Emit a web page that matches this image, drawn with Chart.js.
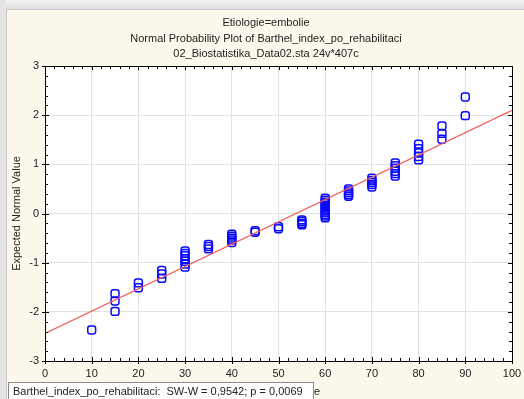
<!DOCTYPE html>
<html><head><meta charset="utf-8">
<script src="https://cdn.jsdelivr.net/npm/chart.js@4"></script>
<style>html,body{margin:0;padding:0;background:#fdf8ec;overflow:hidden}canvas{display:block}</style>
</head><body>
<canvas id="c" width="524" height="399"></canvas>
<script>
const titleLines = ["Etiologie=embolie", "Normal Probability Plot of Barthel_index_po_rehabilitaci", "02_Biostatistika_Data02.sta 24v*407c"];
const yAxisTitle = "Expected Normal Value";
const statText = "Barthel_index_po_rehabilitaci:  SW-W = 0,9542; p = 0,0069";
const xTickValues = [0, 10, 20, 30, 40, 50, 60, 70, 80, 90, 100];
const yTickValues = [-3, -2, -1, 0, 1, 2, 3];

const barthelIndex = [
  10,
  15, 15, 15,
  20, 20,
  25, 25, 25,
  30, 30, 30, 30, 30, 30, 30,
  35, 35, 35,
  40, 40, 40, 40, 40,
  45, 45,
  50, 50,
  55, 55, 55, 55,
  60, 60, 60, 60, 60, 60, 60, 60, 60, 60, 60, 60,
  65, 65, 65, 65, 65,
  70, 70, 70, 70, 70,
  75, 75, 75, 75, 75, 75,
  80, 80, 80, 80, 80,
  85, 85, 85,
  90, 90
];
const expectedNormal = [
  -2.37,
  -1.99, -1.78, -1.63,
  -1.51, -1.41,
  -1.32, -1.23, -1.16,
  -1.09, -1.03, -0.97, -0.92, -0.86, -0.81, -0.76,
  -0.72, -0.67, -0.63,
  -0.59, -0.54, -0.50, -0.46, -0.42,
  -0.38, -0.35,
  -0.31, -0.27,
  -0.23, -0.20, -0.16, -0.13,
  -0.09, -0.05, -0.02, 0.02, 0.05, 0.09, 0.13, 0.16, 0.20, 0.23, 0.27, 0.31,
  0.35, 0.38, 0.42, 0.46, 0.50,
  0.54, 0.59, 0.63, 0.67, 0.72,
  0.76, 0.81, 0.86, 0.92, 0.97, 1.03,
  1.09, 1.16, 1.23, 1.32, 1.41,
  1.51, 1.63, 1.78,
  1.99, 2.37
];
const fitLineX = [0, 100];
const fitLineY = [-2.44, 2.10];

const FONT = "'Liberation Sans', Arial, sans-serif";
const TEXT = "#222222";

const decor = {
  id: 'decor',
  beforeDraw(chart) {
    const ctx = chart.ctx, a = chart.chartArea;
    ctx.save();
    ctx.fillStyle = '#fdf8ec';
    ctx.fillRect(0, 0, chart.width, chart.height);
    const g = ctx.createLinearGradient(0, 0, 0, 9);
    g.addColorStop(0, '#f2f2f2'); g.addColorStop(1, '#e2e2e2');
    ctx.fillStyle = g; ctx.fillRect(0, 0, chart.width, 9);
    ctx.fillStyle = '#e4e4e4'; ctx.fillRect(0, 0, 6, chart.height);
    ctx.strokeStyle = '#c9c9c9'; ctx.lineWidth = 1;
    ctx.beginPath(); ctx.moveTo(6, 9.5); ctx.lineTo(chart.width, 9.5);
    ctx.moveTo(6.5, 9); ctx.lineTo(6.5, chart.height); ctx.stroke();
    ctx.fillStyle = '#ffffff';
    ctx.fillRect(a.left, a.top, a.right - a.left, a.bottom - a.top);
    ctx.restore();
  },
  afterDatasetsDraw(chart) {
    const ctx = chart.ctx, a = chart.chartArea;
    const xs = chart.scales.x, ys = chart.scales.y;
    ctx.save();
    ctx.strokeStyle = '#000000'; ctx.lineWidth = 1;
    ctx.beginPath();
    for (let v = 0; v <= 100; v += 2) {
      const px = Math.round(xs.getPixelForValue(v)) + 0.5;
      const major = v % 10 === 0;
      const len = major ? 4 : 3;
      ctx.moveTo(px, a.bottom); ctx.lineTo(px, a.bottom - len);
      ctx.moveTo(px, a.top); ctx.lineTo(px, a.top + len);
      if (major) { ctx.moveTo(px, a.bottom); ctx.lineTo(px, a.bottom + 3); }
    }
    for (let i = -15; i <= 15; i++) {
      const v = i / 5;
      const py = Math.round(ys.getPixelForValue(v)) + 0.5;
      const major = i % 5 === 0;
      const len = major ? 4 : 3;
      ctx.moveTo(a.left, py); ctx.lineTo(a.left + len, py);
      ctx.moveTo(a.right, py); ctx.lineTo(a.right - len, py);
      if (major) { ctx.moveTo(a.left, py); ctx.lineTo(a.left - 3, py); }
    }
    ctx.stroke();
    ctx.strokeRect(Math.round(a.left) + 0.5, Math.round(a.top) + 0.5, Math.round(a.right - a.left), Math.round(a.bottom - a.top));
    ctx.restore();
  },
  afterDraw(chart) {
    const ctx = chart.ctx;
    ctx.save();
    ctx.fillStyle = TEXT;
    ctx.font = "11px " + FONT;
    ctx.textAlign = 'center'; ctx.textBaseline = 'middle';
    const ys = [23, 38.5, 54];
    titleLines.forEach((t, i) => ctx.fillText(t, 266, ys[i]));
    ctx.fillStyle = '#ffffff';
    ctx.fillRect(8, 382, 305, 20);
    ctx.strokeStyle = '#8a8a8a'; ctx.lineWidth = 1;
    ctx.strokeRect(8.5, 382.5, 305, 20);
    ctx.fillStyle = TEXT;
    ctx.textAlign = 'left';
    ctx.fillText(statText, 13, 392);
    ctx.fillText('e', 314, 392);
    ctx.restore();
  }
};

const points = barthelIndex.map((x, i) => ({ x: x, y: expectedNormal[i] }));
const linePts = fitLineX.map((x, i) => ({ x: x, y: fitLineY[i] }));

new Chart(document.getElementById('c'), {
  type: 'scatter',
  data: {
    datasets: [
      {
        type: 'line', data: linePts, borderColor: '#f25c5c', borderWidth: 1.2,
        pointRadius: 0, fill: false, order: 0, clip: 0
      },
      {
        data: points, pointStyle: 'rectRounded', pointRadius: 4.6,
        borderColor: '#0a0aff', backgroundColor: 'rgba(0,0,0,0)', borderWidth: 1.5,
        order: 1, clip: false
      }
    ]
  },
  options: {
    responsive: false, animation: false, devicePixelRatio: 1,
    layout: { padding: { left: 6, top: 66, right: 12, bottom: 0 } },
    plugins: { legend: { display: false }, tooltip: { enabled: false }, title: { display: false } },
    scales: {
      x: {
        type: 'linear', min: 0, max: 100,
        afterFit(s) { s.height = 38; s.paddingRight = 0; s.paddingLeft = 0; },
        afterBuildTicks(s) { s.ticks = xTickValues.map(v => ({ value: v })); },
        ticks: { font: { size: 11, family: FONT }, color: TEXT, padding: 6, maxRotation: 0 },
        grid: { color: '#e2e2e2', drawTicks: false },
        border: { display: false }
      },
      y: {
        type: 'linear', min: -3, max: 3,
        afterFit(s) { s.width = 39; },
        afterBuildTicks(s) { s.ticks = yTickValues.map(v => ({ value: v })); },
        ticks: { font: { size: 11, family: FONT }, color: TEXT, padding: 6 },
        grid: { color: '#e2e2e2', drawTicks: false },
        border: { display: false },
        title: { display: true, text: yAxisTitle, font: { size: 11, family: FONT }, color: TEXT, padding: { top: 4, bottom: 0 } }
      }
    }
  },
  plugins: [decor]
});
</script>
</body></html>
